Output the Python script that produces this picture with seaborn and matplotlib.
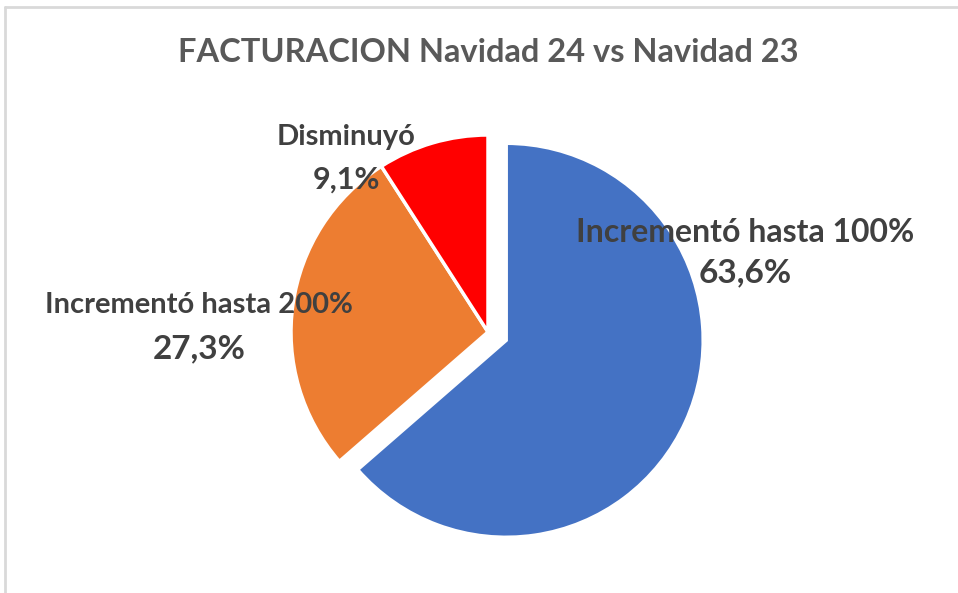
import matplotlib
matplotlib.use('Agg')
import matplotlib.pyplot as plt
import seaborn as sns

# --- data ---
categories = ['Incrementó hasta 100%', 'Incrementó hasta 200%', 'Disminuyó']
shares = [63.6, 27.3, 9.1]
pct_labels = ['63,6%', '27,3%', '9,1%']
colors = ['#4472C4', '#ED7D31', '#FF0000']

sns.set_theme(style='white')
plt.rcParams['font.family'] = ['Lato', 'DejaVu Sans']

W, H = 958, 593
fig = plt.figure(figsize=(W / 100, H / 100), dpi=100)
ax = fig.add_axes([0, 0, 1, 1])

# pie drawn in pixel units (explode is also in pixels here)
R = 197
cx, cy = 488, H - 332
explode = [20, 0, 0]
ax.pie(shares, colors=colors, explode=explode, startangle=90, counterclock=False,
       radius=R, center=(cx, cy), frame=True,
       wedgeprops=dict(edgecolor='white', linewidth=2.5))
ax.set_xlim(0, W)
ax.set_ylim(0, H)
ax.set_aspect('equal')
ax.axis('off')

# chart frame (Excel style)
ax.plot([5, 5], [0, H - 7], color='#d9d9d9', lw=2, clip_on=False)
ax.plot([5, W], [H - 7, H - 7], color='#d9d9d9', lw=2, clip_on=False)

ax.text(488, H - 52, 'FACTURACION Navidad 24 vs Navidad 23', ha='center', va='center',
        fontsize=23.5, fontweight='bold', color='#595959')

# data labels (name + percentage): x, y of name, y of pct, name size, pct size
label_pos = [(745, 232, 273, 23, 24), (199, 305, 349, 21, 24), (346, 137, 180, 21, 22)]
for cat, pct, (x, y1, y2, s1, s2) in zip(categories, pct_labels, label_pos):
    ax.text(x, H - y1, cat, ha='center', va='center', fontsize=s1,
            fontweight='bold', color='#404040')
    ax.text(x, H - y2, pct, ha='center', va='center', fontsize=s2,
            fontweight='bold', color='#404040')

fig.savefig('out.png', dpi=100)
